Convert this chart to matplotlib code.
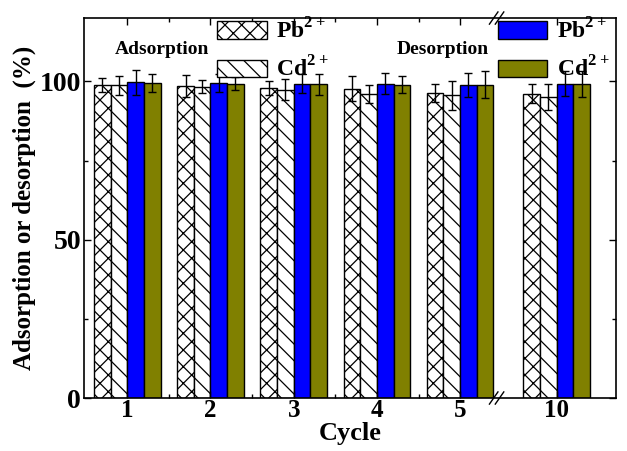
import matplotlib.pyplot as plt
import matplotlib.lines as mlines
import numpy as np

cycles = ["1", "2", "3", "4", "5", "10"]
# x positions of the groups (axis is broken between 5 and 10)
positions = [1, 2, 3, 4, 5, 6.16]

ads_pb = [99.0, 98.6, 98.0, 97.7, 96.3, 96.1]
ads_pb_err = [2.2, 3.4, 2.2, 4.0, 2.9, 3.0]
ads_cd = [98.7, 98.3, 97.4, 96.1, 95.6, 95.1]
ads_cd_err = [2.9, 2.0, 3.2, 2.9, 4.6, 4.1]
des_pb = [99.7, 99.5, 99.3, 99.3, 99.0, 99.3]
des_pb_err = [4.0, 2.9, 2.9, 3.2, 3.8, 3.9]
des_cd = [99.5, 99.3, 99.1, 99.0, 99.0, 99.1]
des_cd_err = [2.8, 2.1, 3.3, 2.8, 4.2, 4.1]

plt.rcParams['font.family'] = 'Liberation Serif'
plt.rcParams['font.weight'] = 'bold'
plt.rcParams['hatch.linewidth'] = 0.9
plt.rcParams['mathtext.fontset'] = 'custom'
plt.rcParams['mathtext.rm'] = 'Liberation Serif:bold'
plt.rcParams['mathtext.bf'] = 'Liberation Serif:bold'
plt.rcParams['axes.linewidth'] = 1.2

fig = plt.figure(figsize=(6.27, 4.51), dpi=100)
ax = fig.add_axes([0.134, 0.1175, 0.848, 0.8425])

x = np.array(positions)
w = 0.2
ek = dict(ecolor='black', elinewidth=1, capsize=3, capthick=1)

b1 = ax.bar(x - 1.5 * w, ads_pb, w, yerr=ads_pb_err, color='white', edgecolor='black',
            hatch='xx', linewidth=1, error_kw=ek)
b2 = ax.bar(x - 0.5 * w, ads_cd, w, yerr=ads_cd_err, color='white', edgecolor='black',
            hatch='\\\\', linewidth=1, error_kw=ek)
b3 = ax.bar(x + 0.5 * w, des_pb, w, yerr=des_pb_err, color='#0000ff', edgecolor='black',
            linewidth=1, error_kw=ek)
b4 = ax.bar(x + 1.5 * w, des_cd, w, yerr=des_cd_err, color='#808000', edgecolor='black',
            linewidth=1, error_kw=ek)

ax.set_xlim(0.48, 6.87)
ax.set_ylim(0, 120)
ax.set_xticks(positions)
ax.set_xticklabels(cycles)
ax.set_xticks([1.5, 2.5, 3.5, 4.5], minor=True)
ax.set_yticks([0, 50, 100])
ax.set_yticks([25, 75], minor=True)
ax.tick_params(which='both', direction='in', top=True, right=True, labelsize=20, width=1)
ax.tick_params(which='major', length=5)
ax.tick_params(which='minor', length=3)
ax.tick_params(axis='x', labelsize=18, pad=1)
ax.tick_params(axis='y', pad=2)

ax.set_xlabel('Cycle', fontsize=19, fontweight='bold', labelpad=0)
ax.set_ylabel('Adsorption or desorption  (%)', fontsize=18, fontweight='bold', labelpad=3)

ax.text(0.147, 0.918, 'Adsorption', transform=ax.transAxes, fontsize=14,
        ha='center', va='center', fontweight='bold')
ax.text(0.675, 0.918, 'Desorption', transform=ax.transAxes, fontsize=14,
        ha='center', va='center', fontweight='bold')

leg_kw = dict(frameon=False, fontsize=17, handlelength=2.1, handleheight=0.75,
              labelspacing=0.55, borderpad=0, borderaxespad=0, handletextpad=0.4,
              loc='upper left')
leg1 = ax.legend([b1, b2], ['Pb$^{2+}$', 'Cd$^{2+}$'], bbox_to_anchor=(0.25, 1.0), **leg_kw)
ax.add_artist(leg1)
ax.legend([b3, b4], ['Pb$^{2+}$', 'Cd$^{2+}$'], bbox_to_anchor=(0.778, 1.0), **leg_kw)

# axis break marks
for y0 in (0.0, 1.0):
    for dx in (0.0, 0.011):
        xb = 0.7705 + dx
        ax.add_line(mlines.Line2D([xb - 0.008, xb + 0.008], [y0 - 0.016, y0 + 0.016],
                                  transform=ax.transAxes, color='black', lw=1, clip_on=False))

fig.savefig('out.png', dpi=100)
